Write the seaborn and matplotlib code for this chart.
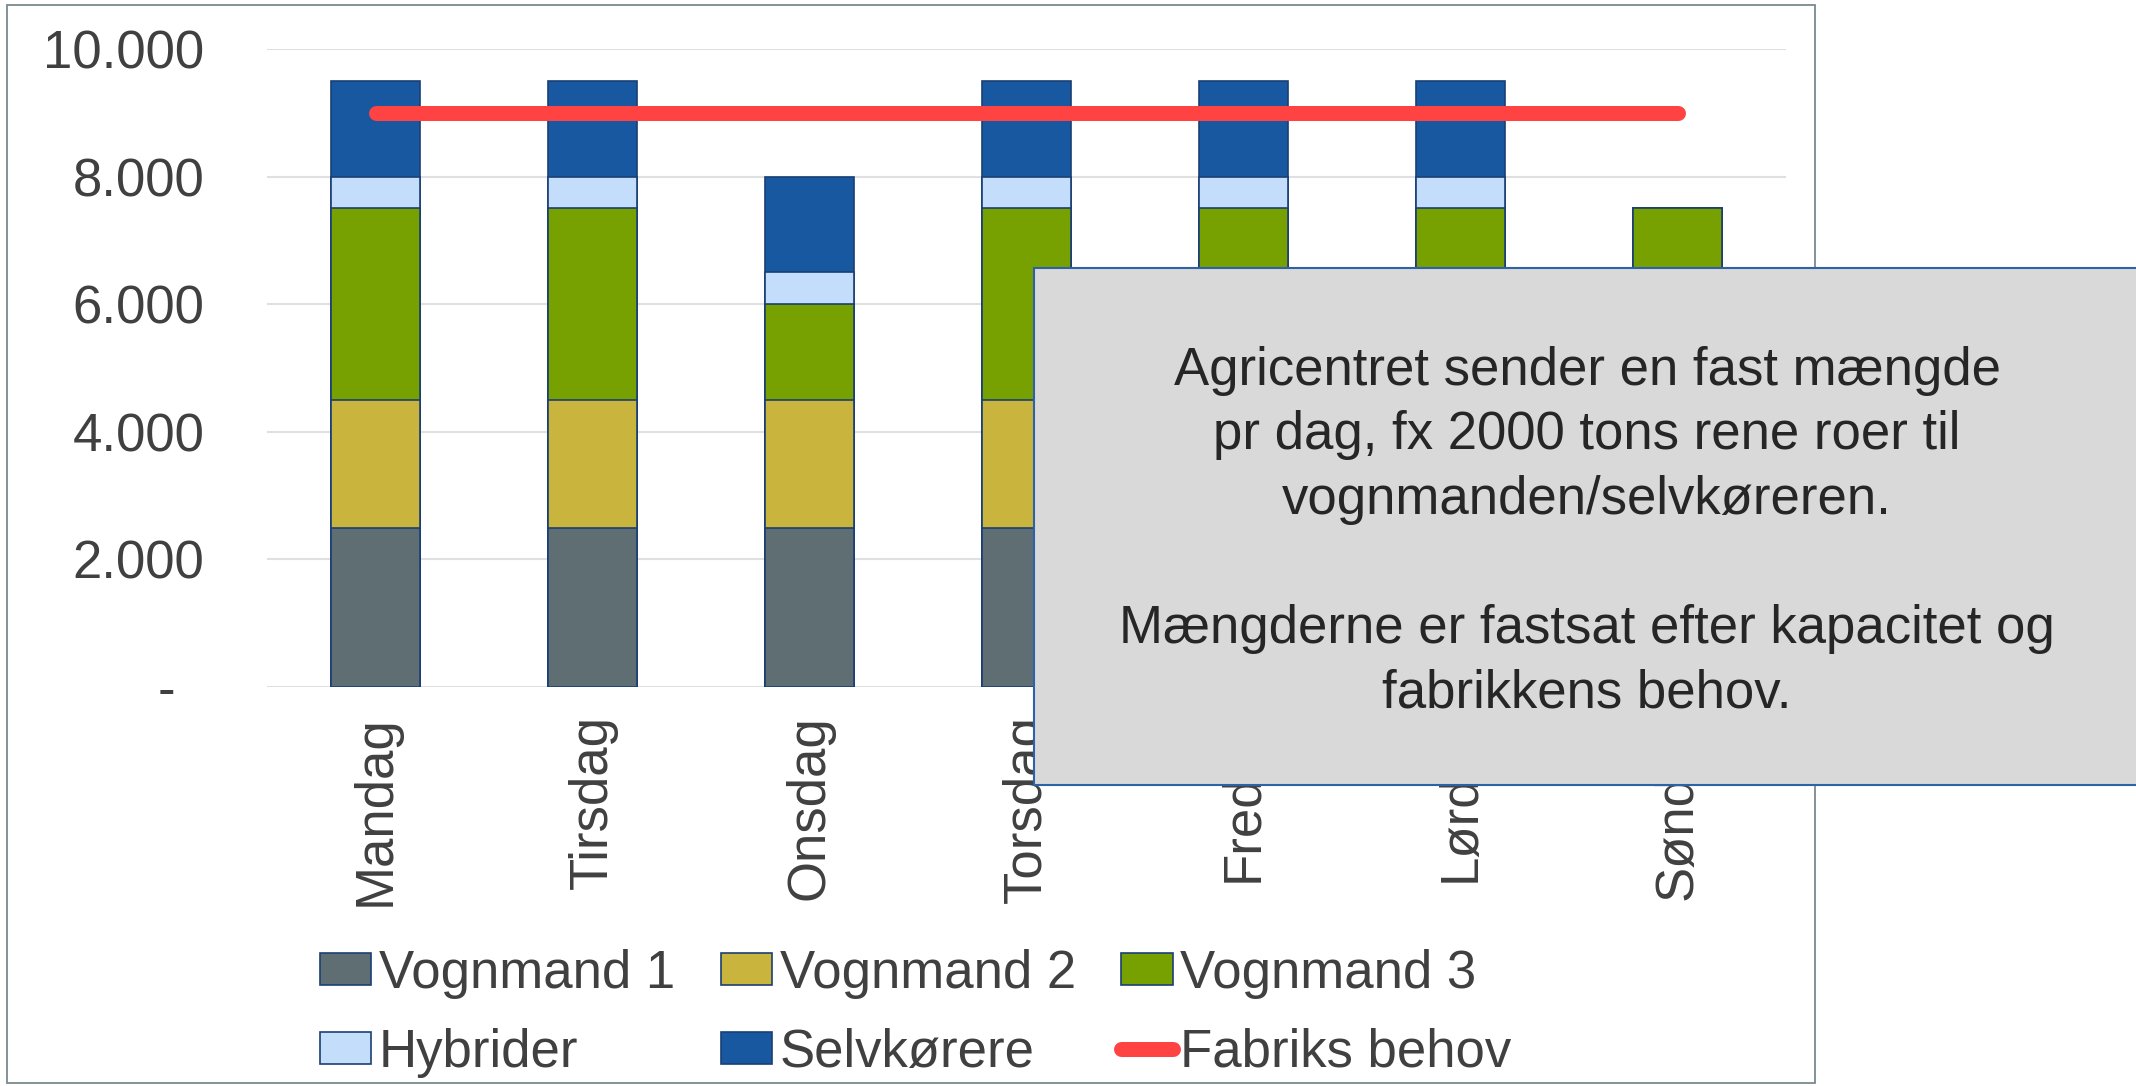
import numpy as np
import pandas as pd
import matplotlib
matplotlib.use("Agg")
import matplotlib.pyplot as plt
import seaborn as sns
from matplotlib.patches import Patch, Rectangle
from matplotlib.lines import Line2D
from matplotlib.ticker import FuncFormatter, FixedLocator

# ---------------- data ----------------
days = ["Mandag", "Tirsdag", "Onsdag", "Torsdag", "Fredag", "Lørdag", "Søndag"]
vognmand1 = [2500, 2500, 2500, 2500, 2500, 2500, 2500]
vognmand2 = [2000, 2000, 2000, 2000, 2000, 2000, 2000]
vognmand3 = [3000, 3000, 1500, 3000, 3000, 3000, 3000]
hybrider = [500, 500, 500, 500, 500, 500, 0]
selvkorere = [1500, 1500, 1500, 1500, 1500, 1500, 0]
fabriks_behov = [9000, 9000, 9000, 9000, 9000, 9000, 9000]
series_names = ["Vognmand 1", "Vognmand 2", "Vognmand 3", "Hybrider", "Selvkørere"]
line_name = "Fabriks behov"
y_ticks = [0, 2000, 4000, 6000, 8000, 10000]
note_text = ("Agricentret sender en fast mængde\n"
             "pr dag, fx 2000 tons rene roer til\n"
             "vognmanden/selvkøreren.\n"
             "\n"
             "Mængderne er fastsat efter kapacitet og\n"
             "fabrikkens behov.")

# ---------------- style ----------------
colors = ["#5F6E73", "#C9B53D", "#77A100", "#C3DDFA", "#1858A0"]
edge_col = "#1B3F74"
line_col = "#FF4343"
text_col = "#404040"
FS = 38

sns.set_style("white")
plt.rcParams["font.family"] = ["Liberation Sans", "DejaVu Sans"]

fig = plt.figure(figsize=(21.36, 10.86), dpi=100)
fig.patch.set_facecolor("white")

# outer chart frame
frame = Rectangle((7 / 2136, 3 / 1086), (1815 - 7) / 2136, (1081 - 3) / 1086,
                  transform=fig.transFigure, fill=False, edgecolor="#7A8A90",
                  linewidth=1.3, zorder=-1)
fig.add_artist(frame)

ax = fig.add_axes([267 / 2136, 1 - 687 / 1086, (1786 - 267) / 2136, (687 - 49) / 1086])
ax.set_facecolor("none")

df = pd.DataFrame({"Dag": days})
series = [vognmand1, vognmand2, vognmand3, hybrider, selvkorere]
cum = np.cumsum(np.array(series, dtype=float), axis=0)
for i in range(len(series) - 1, -1, -1):
    df["cum"] = cum[i]
    sns.barplot(data=df, x="Dag", y="cum", order=days, color=colors[i],
                saturation=1, width=0.41, edgecolor=edge_col, linewidth=1.2,
                errorbar=None, ax=ax, zorder=2)

sns.lineplot(x=np.arange(len(days)), y=fabriks_behov, ax=ax, color=line_col,
             linewidth=10.8, solid_capstyle="round", zorder=4, legend=False)

ax.set_xlim(-0.5, len(days) - 0.5)
ax.set_ylim(0, 10000)
ax.yaxis.set_major_locator(FixedLocator(y_ticks))
ax.yaxis.set_major_formatter(FuncFormatter(
    lambda v, p: "-  " if v == 0 else f"{int(v):,}".replace(",", ".")))
ax.set_xlabel("")
ax.set_ylabel("")
ax.grid(axis="y", color="#E0E0E0", linewidth=1.5, zorder=0)
ax.set_axisbelow(True)
for s in ax.spines.values():
    s.set_visible(False)
ax.tick_params(axis="y", length=0, pad=45, labelsize=FS, labelcolor=text_col)
ax.tick_params(axis="x", length=0, pad=20, labelsize=FS, labelcolor=text_col,
               rotation=90)

# legend
handles = [Patch(facecolor=c, edgecolor=edge_col, linewidth=1.2) for c in colors]
handles.append(Line2D([0], [0], color=line_col, linewidth=10.8,
                      solid_capstyle="round"))
labels = series_names + [line_name]
order = [0, 3, 1, 4, 2, 5]
leg = fig.legend([handles[k] for k in order], [labels[k] for k in order],
                 ncol=3, loc="upper left", bbox_to_anchor=(320 / 2136, 1 - 949 / 1086),
                 frameon=False, fontsize=FS, handlelength=0.97, handleheight=0.55,
                 handletextpad=0.15, columnspacing=0.86, labelspacing=0.54,
                 borderpad=0, borderaxespad=0)
for t in leg.get_texts():
    t.set_color(text_col)

# grey note box
box = Rectangle((1034 / 2136, 1 - 785 / 1086), 0.6, (785 - 268) / 1086,
                transform=fig.transFigure, facecolor="#D9D9D9",
                edgecolor="#2E62A6", linewidth=1.5, zorder=5)
fig.add_artist(box)
fig.text(1587 / 2136, 1 - 532 / 1086, note_text, ha="center", va="center",
         multialignment="center", fontsize=FS, color="#262626",
         linespacing=1.37, zorder=6)

fig.savefig("out.png", dpi=100, facecolor="white")
